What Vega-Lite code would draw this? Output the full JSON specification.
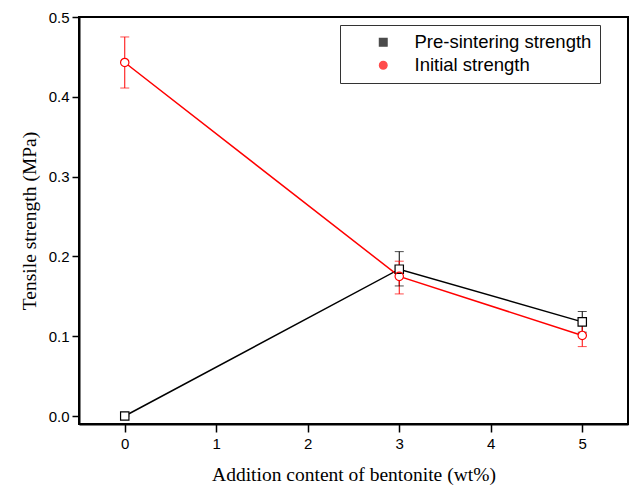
{
  "$schema": "https://vega.github.io/schema/vega-lite/v6.json",
  "width": 549,
  "height": 407,
  "autosize": {"type": "none"},
  "padding": {"left": 79, "top": 17, "right": 6, "bottom": 64},
  "background": "white",
  "config": {
    "view": {"stroke": "black", "strokeWidth": 2},
    "axis": {"labelFont": "Liberation Sans", "labelFontSize": 15, "labelColor": "black", "titleFont": "Liberation Serif", "titleFontSize": 19.5, "titleFontWeight": "normal", "titleColor": "black", "domainColor": "black", "domainWidth": 2, "tickColor": "black", "tickWidth": 1.5, "grid": false}
  },
  "data": {"values": [
    {"series": "Pre-sintering strength", "x": 0, "y": 0.0, "lo": 0.0, "hi": 0.0},
    {"series": "Pre-sintering strength", "x": 3, "y": 0.184, "lo": 0.163, "hi": 0.206},
    {"series": "Pre-sintering strength", "x": 5, "y": 0.118, "lo": 0.105, "hi": 0.131},
    {"series": "Initial strength", "x": 0, "y": 0.443, "lo": 0.411, "hi": 0.475},
    {"series": "Initial strength", "x": 3, "y": 0.175, "lo": 0.153, "hi": 0.194},
    {"series": "Initial strength", "x": 5, "y": 0.101, "lo": 0.087, "hi": 0.116}
  ]},
  "layer": [
    {
      "mark": {"type": "line", "strokeWidth": 1.5},
      "encoding": {
        "x": {"field": "x", "type": "quantitative", "scale": {"domain": [-0.5, 5.5], "nice": false, "zero": false}, "axis": {"values": [0, 1, 2, 3, 4, 5], "format": "d", "tickSize": 8, "labelPadding": 4, "title": "Addition content of bentonite (wt%)", "titlePadding": 14}},
        "y": {"field": "y", "type": "quantitative", "scale": {"domain": [-0.01, 0.5], "nice": false, "zero": false}, "axis": {"values": [0, 0.1, 0.2, 0.3, 0.4, 0.5], "format": ".1f", "tickSize": 7, "labelPadding": 3, "title": "Tensile strength (MPa)", "titlePadding": 9}},
        "color": {"field": "series", "type": "nominal", "scale": {"domain": ["Pre-sintering strength", "Initial strength"], "range": ["black", "red"]}}
      }
    },
    {
      "mark": {"type": "rule", "strokeWidth": 1},
      "encoding": {
        "x": {"field": "x", "type": "quantitative"},
        "y": {"field": "lo", "type": "quantitative"},
        "y2": {"field": "hi"},
        "color": {"field": "series", "type": "nominal"}
      }
    },
    {
      "mark": {"type": "tick", "orient": "horizontal", "size": 9, "thickness": 1},
      "encoding": {
        "x": {"field": "x", "type": "quantitative"},
        "y": {"field": "hi", "type": "quantitative"},
        "color": {"field": "series", "type": "nominal"}
      }
    },
    {
      "mark": {"type": "tick", "orient": "horizontal", "size": 9, "thickness": 1},
      "encoding": {
        "x": {"field": "x", "type": "quantitative"},
        "y": {"field": "lo", "type": "quantitative"},
        "color": {"field": "series", "type": "nominal"}
      }
    },
    {
      "transform": [{"filter": "datum.series === 'Pre-sintering strength'"}],
      "mark": {"type": "point", "shape": "square", "filled": true, "color": "white", "opacity": 1, "size": 70},
      "encoding": {
        "x": {"field": "x", "type": "quantitative"},
        "y": {"field": "y", "type": "quantitative"}
      }
    },
    {
      "transform": [{"filter": "datum.series === 'Initial strength'"}],
      "mark": {"type": "point", "shape": "circle", "filled": true, "color": "white", "opacity": 1, "size": 70},
      "encoding": {
        "x": {"field": "x", "type": "quantitative"},
        "y": {"field": "y", "type": "quantitative"}
      }
    },
    {
      "mark": {"type": "point", "filled": false, "opacity": 1, "strokeWidth": 1.2, "size": 70},
      "encoding": {
        "x": {"field": "x", "type": "quantitative"},
        "y": {"field": "y", "type": "quantitative"},
        "color": {"field": "series", "type": "nominal",
          "legend": {"title": null, "orient": "none", "legendX": 261, "legendY": 8, "padding": 8, "strokeColor": "#333", "fillColor": "white", "symbolSize": 60, "symbolStrokeWidth": 1.2, "symbolOffset": 26, "labelFont": "Liberation Sans", "labelFontSize": 18.5, "labelLimit": 400, "labelColor": "black", "labelOffset": 22, "rowPadding": 4}},
        "shape": {"field": "series", "type": "nominal", "scale": {"domain": ["Pre-sintering strength", "Initial strength"], "range": ["square", "circle"]}}
      }
    }
  ]
}
